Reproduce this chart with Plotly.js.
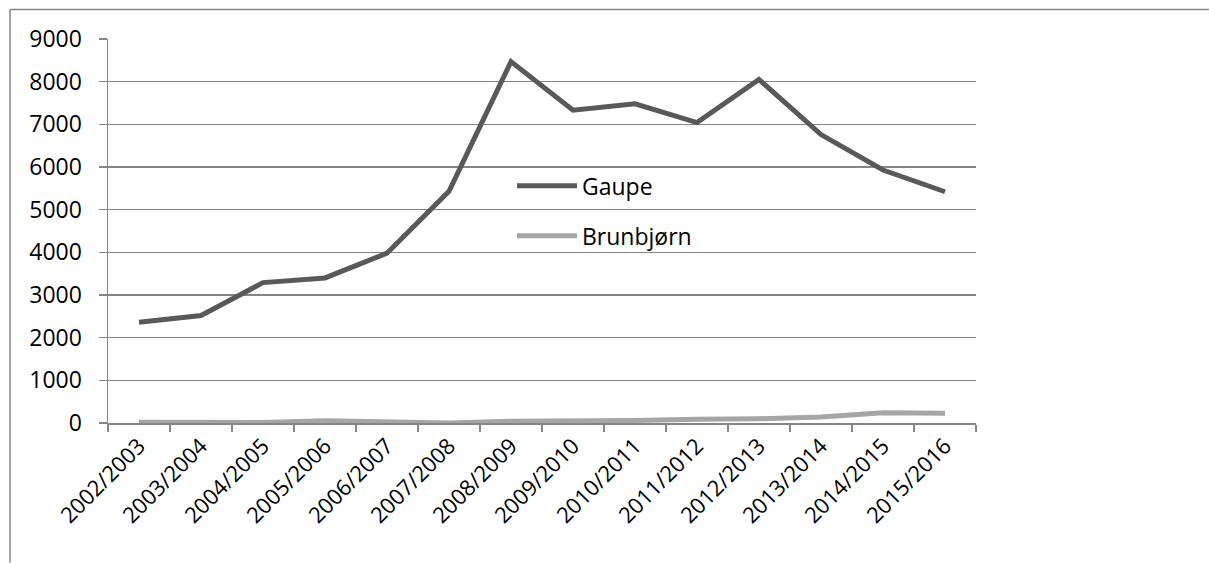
<!DOCTYPE html>
<html>
<head>
<meta charset="utf-8">
<script src="https://cdn.plot.ly/plotly-3.0.1.min.js"></script>
<style>
html,body{margin:0;padding:0;background:#fff;}
#chart{width:1209px;height:563px;}
</style>
</head>
<body>
<div id="chart"></div>
<script>
const seasons = ["2002/2003","2003/2004","2004/2005","2005/2006","2006/2007","2007/2008","2008/2009","2009/2010","2010/2011","2011/2012","2012/2013","2013/2014","2014/2015","2015/2016"];
const gaupe = [2360, 2520, 3290, 3400, 3980, 5430, 8470, 7330, 7480, 7040, 8050, 6760, 5930, 5420];
const brunbjorn = [20, 10, 10, 50, 20, 0, 40, 40, 60, 90, 100, 140, 240, 230];
const yTicks = [0,1000,2000,3000,4000,5000,6000,7000,8000,9000];

const W = 1209, H = 563;
const L = 108, R = 233, T = 38.5, B = 140;
const pw = W - L - R, ph = H - T - B;
const px = v => (v - L) / pw;
const py = v => (H - B - v) / ph;

const font = "'Open Sans', 'DejaVu Sans', sans-serif";

const traces = [
  {x: seasons, y: gaupe, name: "Gaupe", type: "scatter", mode: "lines",
   line: {color: "#595959", width: 5}, legendgroup: "g1"},
  {x: seasons, y: brunbjorn, name: "Brunbjørn", type: "scatter", mode: "lines",
   line: {color: "#A6A6A6", width: 5}, legendgroup: "g2"}
];

const layout = {
  width: W, height: H,
  margin: {l: L, r: R, t: T, b: B},
  paper_bgcolor: "#fff", plot_bgcolor: "#fff",
  font: {family: font, size: 23, color: "#000"},
  xaxis: {
    type: "category",
    range: [-0.5, 13.5],
    tickangle: -45,
    tickson: "boundaries",
    ticks: "outside", ticklen: 7, tickcolor: "#868686", tickwidth: 1.5,
    showline: true, linecolor: "#868686", linewidth: 1.5,
    showgrid: false, zeroline: false,
    tickfont: {family: font, size: 22, color: "#000"}
  },
  yaxis: {
    range: [0, 9000],
    tickvals: yTicks,
    ticktext: yTicks.map(String),
    ticks: "outside", ticklen: 8, tickcolor: "#868686", tickwidth: 1.5,
    showline: true, linecolor: "#868686", linewidth: 1.5,
    showgrid: true, gridcolor: "#868686", gridwidth: 1.5,
    zeroline: false,
    tickfont: {family: font, size: 23, color: "#000"},
    ticklabelstandoff: 12
  },
  showlegend: true,
  legend: {
    x: px(512), y: py(164), xanchor: "left", yanchor: "top",
    bgcolor: "rgba(0,0,0,0)",
    font: {family: font, size: 23, color: "#000"},
    tracegroupgap: 17,
    itemwidth: 60
  },
  shapes: [
    {type: "line", xref: "paper", yref: "paper", x0: px(10), x1: px(1209), y0: py(9), y1: py(9),
     line: {color: "#868686", width: 1.5}},
    {type: "line", xref: "paper", yref: "paper", x0: px(10), x1: px(10), y0: py(9), y1: py(563),
     line: {color: "#868686", width: 1.5}}
  ]
};

Plotly.newPlot("chart", traces, layout, {displayModeBar: false, staticPlot: true});
</script>
</body>
</html>
